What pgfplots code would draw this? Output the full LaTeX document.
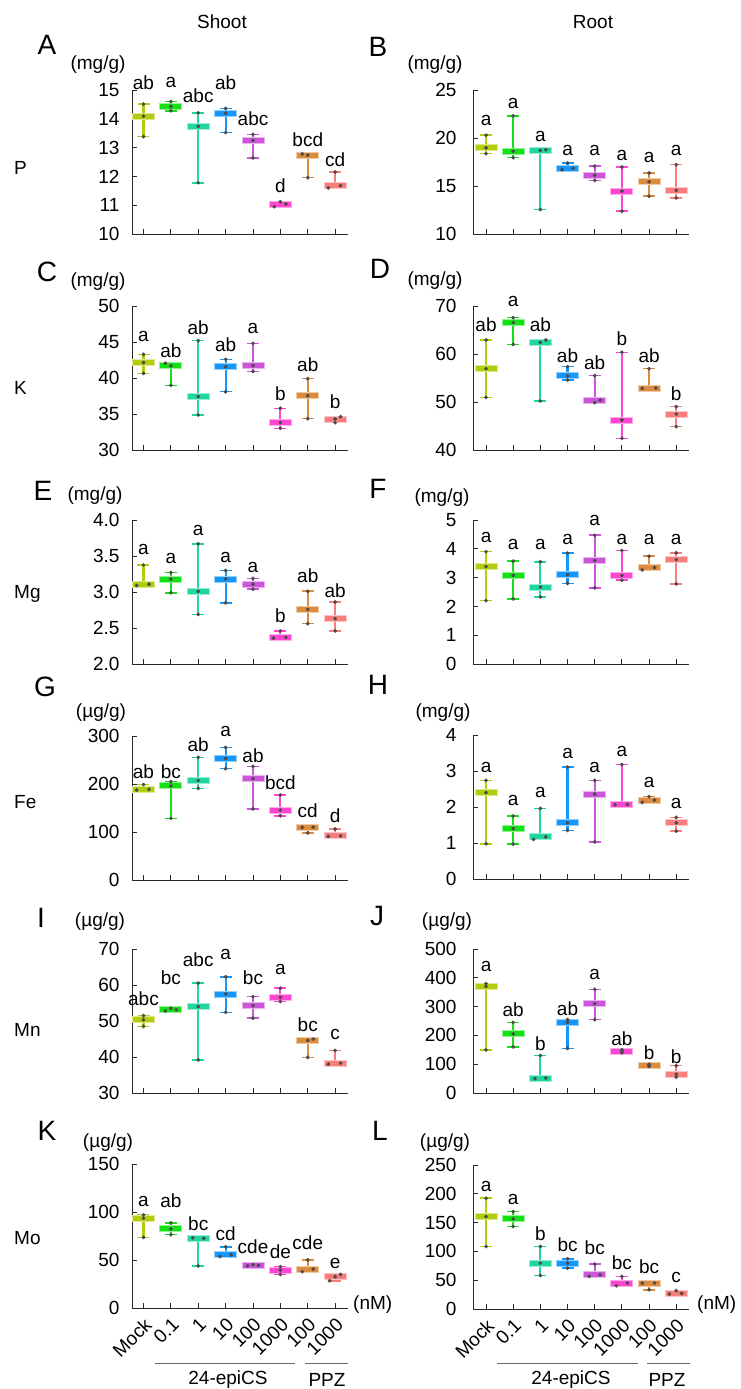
\documentclass[border=0pt]{standalone}
\usepackage{fontspec}
\setmainfont{Liberation Sans}
\usepackage{pgfplots}
\usepackage{pgfplotstable}
\pgfplotsset{compat=1.18}

\definecolor{C0}{RGB}{180,205,10}
\definecolor{C1}{RGB}{20,225,20}
\definecolor{C2}{RGB}{30,215,160}
\definecolor{C3}{RGB}{20,150,250}
\definecolor{C4}{RGB}{205,85,220}
\definecolor{C5}{RGB}{255,70,210}
\definecolor{C6}{RGB}{220,140,60}
\definecolor{C7}{RGB}{250,125,125}
\definecolor{dotc}{RGB}{75,75,75}
\definecolor{axc}{RGB}{40,40,40}

\newcommand{\fs}{\fontsize{19}{22}\selectfont}
\newcommand{\fl}{\fontsize{28}{30}\selectfont}

% x lo med hi | dot x-offsets | letter y | letter
\pgfplotstableread{
x lo med hi ol om oh ly lab
0 13.38 14.09 14.51 0 0 0 15.27 ab
1 14.28 14.43 14.60 0 0 0 15.27 a
2 11.78 13.74 14.21 0 0 0 14.80 abc
3 13.52 14.19 14.36 0 0 0 15.27 ab
4 12.64 13.25 13.46 0 0 0 13.99 abc
5 10.95 11.04 11.12 -0.22 0.2 0 11.68 d
6 11.96 12.74 12.78 0 0 -0.2 13.26 bcd
7 11.60 11.68 12.15 -0.25 0.2 0 12.58 cd
}\tabA
\pgfplotstableread{
x lo med hi ol om oh ly lab
0 18.37 18.97 20.29 0 0 0 21.79 a
1 17.95 18.62 22.31 0 0 0 23.60 a
2 12.55 18.70 18.78 0 0 0.2 20.19 a
3 16.70 16.85 17.40 -0.2 0.2 0 18.65 a
4 15.58 16.14 17.08 0 0 0 18.65 a
5 12.37 14.47 16.98 0 0 0 18.20 a
6 13.94 15.44 16.35 0 0 0 17.95 a
7 13.77 14.54 17.22 0 0 0 18.65 a
}\tabB
\pgfplotstableread{
x lo med hi ol om oh ly lab
0 40.65 42.13 43.29 0 0 0 45.74 a
1 38.98 41.70 42.04 0 0 -0.2 43.80 ab
2 34.86 37.41 45.19 0 0 0 47.04 ab
3 38.10 41.57 42.59 0 0 0 44.68 ab
4 40.93 41.71 44.81 0 0 0 46.90 a
5 33.01 33.80 35.79 0 0 0 37.78 b
6 34.35 37.55 39.91 0 0 0 41.80 ab
7 33.80 34.30 34.63 0 0 0.2 36.71 b
}\tabC
\pgfplotstableread{
x lo med hi ol om oh ly lab
0 50.97 56.94 62.92 0 0 0 66.04 ab
1 62.01 66.53 67.57 0 0 0 71.04 a
2 50.20 62.40 62.92 0 0 0.2 66.04 ab
3 54.58 55.42 57.36 0 0 0 59.58 ab
4 49.86 50.40 55.49 0 0.2 0 58.19 ab
5 42.43 46.25 60.35 0 0 0 63.26 b
6 52.85 52.90 56.94 -0.25 0.25 0 59.58 ab
7 44.86 47.50 49.03 0 0 0 51.80 b
}\tabD
\pgfplotstableread{
x lo med hi ol om oh ly lab
0 3.09 3.11 3.375 -0.25 0.2 0 3.59 a
1 2.99 3.18 3.27 0 0 0 3.46 a
2 2.69 3.01 3.67 0 0 0 3.85 a
3 2.85 3.18 3.30 0 0 0 3.48 a
4 3.04 3.11 3.19 0 0 0 3.34 a
5 2.36 2.37 2.46 -0.25 0.2 0 2.67 b
6 2.56 2.76 3.01 0 0 0 3.23 ab
7 2.46 2.63 2.86 0 0 0 3.02 ab
}\tabE
\pgfplotstableread{
x lo med hi ol om oh ly lab
0 2.20 3.38 3.90 0 0 0 4.38 a
1 2.26 3.08 3.57 0 0 0 4.15 a
2 2.33 2.67 3.55 0 0 0 4.15 a
3 2.80 3.10 3.85 0 0 0 4.33 a
4 2.64 3.59 4.47 0 0 0 4.97 a
5 2.91 3.07 3.94 0 0 0 4.33 a
6 3.27 3.35 3.74 -0.25 0.2 0 4.33 a
7 2.78 3.62 3.86 0 0 0 4.33 a
}\tabF
\pgfplotstableread{
x lo med hi ol om oh ly lab
0 187.5 189.0 199.0 -0.25 0.2 0 226.5 ab
1 128.4 196.0 204.6 0 0 0 226.5 bc
2 190.8 207.3 255.4 0 0 0 281.5 ab
3 232.0 253.3 276.0 0 0 0 309.0 a
4 148.3 211.4 236.8 0 0 0 259.5 ab
5 133.9 145.6 177.1 0 0 0 202.5 bcd
6 98.2 109.8 110.2 0 -0.2 0.2 144.0 cd
7 91.0 92.0 106.4 -0.25 0.2 0 134.0 d
}\tabG
\pgfplotstableread{
x lo med hi ol om oh ly lab
0 0.98 2.40 2.74 0 0 0 3.10 a
1 0.97 1.40 1.75 0 0 0 2.17 a
2 1.10 1.17 1.96 -0.25 0.2 0 2.40 a
3 1.35 1.56 3.11 0 0 0 3.48 a
4 1.03 2.36 2.74 0 0 0 3.10 a
5 2.06 2.07 3.18 -0.25 0.2 0 3.54 a
6 2.13 2.19 2.29 -0.25 0.2 0 2.68 a
7 1.33 1.56 1.71 0 0 0 2.10 a
}\tabH
\pgfplotstableread{
x lo med hi ol om oh ly lab
0 48.5 50.3 51.5 0 0 0 56.3 abc
1 52.8 53.1 53.56 -0.2 0.2 0 61.9 bc
2 39.2 54.0 60.5 0 0 0 67.1 abc
3 52.4 57.5 62.3 0 0 0 68.5 a
4 50.8 54.3 56.8 0 0 0 61.9 bc
5 55.4 56.6 59.1 0 0 0 64.4 a
6 39.9 44.6 45.0 0 0 0.2 48.9 bc
7 38.0 38.3 41.8 -0.25 0.2 0 46.35 c
}\tabI
\pgfplotstableread{
x lo med hi ol om oh ly lab
0 150 370 380 0 0 0 440 a
1 160 205 245 0 0 0 290 ab
2 50 52 130 -0.2 0.2 0 172 b
3 155 245 255 0 0 0 292 ab
4 255 310 360 0 0 0 410 a
5 140 145 150 0 0 0 190 ab
6 92 95 100 0 0 0 140 b
7 55 65 95 0 0 0 125 b
}\tabJ
\pgfplotstableread{
x lo med hi ol om oh ly lab
0 73.6 93.5 97.0 0 0 0 111.4 a
1 76.4 82.4 88.7 0 0 0 111.4 ab
2 43.8 72.5 73.0 0 0.2 -0.2 88.0 bc
3 53.6 55.4 63.8 -0.2 0.2 0 77.4 cd
4 43.8 44.5 45.2 -0.2 0.2 0 64.1 cde
5 35.0 39.6 43.1 0 0 0 58.2 de
6 37.8 40.6 50.1 -0.2 0.2 0 68.3 cde
7 28.4 32.6 35.0 -0.2 0 0.2 46.6 e
}\tabK
\pgfplotstableread{
x lo med hi ol om oh ly lab
0 108.5 160.5 192.3 0 0 0 212.5 a
1 143.2 156.5 169.2 0 0 0 190.5 a
2 58.3 79.7 108.5 0 0 0 130.5 b
3 71.0 79.7 87.2 0 0 0 111.4 bc
4 56.6 59.5 78.0 -0.2 0.2 0 105.7 bc
5 40.4 45.0 56.6 -0.2 0.2 0 79.7 bc
6 33.5 45.0 45.2 0 -0.25 0.2 73.9 bc
7 26.0 27.0 31.8 -0.25 0.2 0 54.8 c
}\tabL

\pgfplotsset{
  panel/.style={
    scale only axis, width=216pt, height=144pt,
    axis lines=left, axis line style={-, line width=1pt, axc},
    xmin=-0.42, xmax=7.47, xtick={0,...,7}, xticklabels={},
    tick align=inside, major tick length=5pt,
    tick style={axc, line width=1pt},
    clip=false,
    tick label style={font=\fs},
    /pgf/number format/assume math mode=true,
    yticklabel style={xshift=-9pt},
  },
  rpanel/.style={panel, xmin=-0.48, yticklabel style={xshift=-4pt}},
  bottom/.style={xticklabels={Mock,0.1,1,10,100,1000,100,1000},
    xticklabel style={xshift=7pt, yshift=-11pt, rotate=45, anchor=east, font=\fs}},
}

\newcommand{\drawpanel}[1]{%
  \pgfplotsinvokeforeach{0,...,7}{%
    \addplot[C##1!45, only marks, mark=-, mark size=11.5pt,
      mark options={line width=7pt}]
      table[x=x, y=med, restrict expr to domain={\coordindex}{##1:##1}] {#1};
    \addplot[C##1, only marks, mark=-, mark size=10.5pt,
      mark options={line width=5pt, draw=C##1},
      error bars/.cd, y dir=both, y explicit, error mark=-,
      error mark options={rotate=90, mark size=6pt, line width=1.6pt, draw=C##1},
      error bar style={line width=2.2pt, draw=C##1}]
      table[x=x, y=med,
        y error plus expr=\thisrow{hi}-\thisrow{med},
        y error minus expr=\thisrow{med}-\thisrow{lo},
        restrict expr to domain={\coordindex}{##1:##1}] {#1};
  }
  \addplot[only marks, mark=*, mark size=1.7pt, dotc] table[x expr=\thisrow{x}+\thisrow{ol}, y=lo] {#1};
  \addplot[only marks, mark=*, mark size=1.7pt, dotc] table[x expr=\thisrow{x}+\thisrow{om}, y=med] {#1};
  \addplot[only marks, mark=*, mark size=1.7pt, dotc] table[x expr=\thisrow{x}+\thisrow{oh}, y=hi] {#1};
  \addplot[only marks, mark=none, nodes near coords, point meta=explicit symbolic,
    nodes near coords align=center,
    every node near coord/.append style={font=\fs, inner sep=0pt, anchor=center, black}]
    table[x=x, y=ly, meta=lab] {#1};
}

\begin{document}
\begin{tikzpicture}
\useasboundingbox (0,0) rectangle (741pt,-1389pt);

% ---- left column (Shoot)
\begin{axis}[panel, at={(132pt,-234pt)}, anchor=south west, ymin=10, ymax=15, ytick={10,...,15}]
\drawpanel{\tabA}
\end{axis}
\begin{axis}[panel, at={(132pt,-450pt)}, anchor=south west, ymin=30, ymax=50, ytick={30,35,...,50}]
\drawpanel{\tabC}
\end{axis}
\begin{axis}[panel, at={(132pt,-664pt)}, anchor=south west, ymin=2, ymax=4, ytick={2,2.5,...,4},
  yticklabel style={/pgf/number format/.cd, fixed, fixed zerofill, precision=1}]
\drawpanel{\tabE}
\end{axis}
\begin{axis}[panel, at={(132pt,-880pt)}, anchor=south west, ymin=0, ymax=300, ytick={0,100,...,300}]
\drawpanel{\tabG}
\end{axis}
\begin{axis}[panel, at={(132pt,-1093pt)}, anchor=south west, ymin=30, ymax=70, ytick={30,40,...,70}]
\drawpanel{\tabI}
\end{axis}
\begin{axis}[panel, bottom, at={(132pt,-1308pt)}, anchor=south west, ymin=0, ymax=150, ytick={0,50,...,150}]
\drawpanel{\tabK}
\end{axis}

% ---- right column (Root)
\begin{axis}[rpanel, at={(473pt,-234pt)}, anchor=south west, ymin=10, ymax=25, ytick={10,15,...,25}]
\drawpanel{\tabB}
\end{axis}
\begin{axis}[rpanel, at={(473pt,-450pt)}, anchor=south west, ymin=40, ymax=70, ytick={40,50,...,70}]
\drawpanel{\tabD}
\end{axis}
\begin{axis}[rpanel, at={(473pt,-664pt)}, anchor=south west, ymin=0, ymax=5, ytick={0,...,5}]
\drawpanel{\tabF}
\end{axis}
\begin{axis}[rpanel, at={(473pt,-879pt)}, anchor=south west, ymin=0, ymax=4, ytick={0,...,4}]
\drawpanel{\tabH}
\end{axis}
\begin{axis}[rpanel, at={(473pt,-1093pt)}, anchor=south west, ymin=0, ymax=500, ytick={0,100,...,500}]
\drawpanel{\tabJ}
\end{axis}
\begin{axis}[rpanel, bottom, at={(473pt,-1309pt)}, anchor=south west, ymin=0, ymax=250, ytick={0,50,...,250}]
\drawpanel{\tabL}
\end{axis}

\begin{scope}[x=1pt, y=-1pt]
\node[font=\fs] at (222,22) {Shoot};
\node[font=\fs] at (593,22) {Root};
% panel letters
\node[font=\fl, anchor=base] at (47,55) {A};
\node[font=\fl, anchor=base] at (378,57) {B};
\node[font=\fl, anchor=base] at (47,281) {C};
\node[font=\fl, anchor=base] at (380,278) {D};
\node[font=\fl, anchor=base] at (43,500) {E};
\node[font=\fl, anchor=base] at (378,498) {F};
\node[font=\fl, anchor=base] at (45,696) {G};
\node[font=\fl, anchor=base] at (378,694) {H};
\node[font=\fl, anchor=base] at (41,927) {I};
\node[font=\fl, anchor=base] at (377,925) {J};
\node[font=\fl, anchor=base] at (47,1140) {K};
\node[font=\fl, anchor=base] at (380,1140) {L};
% units
\node[font=\fs] at (98,65) {(mg/g)};
\node[font=\fs] at (435,65) {(mg/g)};
\node[font=\fs] at (98,282) {(mg/g)};
\node[font=\fs] at (435,281) {(mg/g)};
\node[font=\fs] at (95,496) {(mg/g)};
\node[font=\fs] at (442,498) {(mg/g)};
\node[font=\fs] at (101,713) {(µg/g)};
\node[font=\fs] at (443,713) {(mg/g)};
\node[font=\fs] at (100,922) {(µg/g)};
\node[font=\fs] at (447,922) {(µg/g)};
\node[font=\fs] at (108,1143) {(µg/g)};
\node[font=\fs] at (445,1143) {(µg/g)};
% element names
\node[font=\fs, anchor=base west, inner sep=0pt] at (14,174) {P};
\node[font=\fs, anchor=base west, inner sep=0pt] at (14,394) {K};
\node[font=\fs, anchor=base west, inner sep=0pt] at (14,598) {Mg};
\node[font=\fs, anchor=base west, inner sep=0pt] at (14,808) {Fe};
\node[font=\fs, anchor=base west, inner sep=0pt] at (14,1036) {Mn};
\node[font=\fs, anchor=base west, inner sep=0pt] at (14,1244) {Mo};
% (nM)
\node[font=\fs, anchor=west, inner sep=0pt] at (353,1305) {(nM)};
\node[font=\fs, anchor=west, inner sep=0pt] at (697,1305) {(nM)};
% group brackets
\draw[black!60, line width=0.8pt] (155,1363) -- (295,1363);
\draw[black!60, line width=0.8pt] (305,1363) -- (348,1363);
\draw[black!60, line width=0.8pt] (497,1363) -- (638,1363);
\draw[black!60, line width=0.8pt] (647,1363) -- (690,1363);
\node[font=\fs] at (228,1380) {24-epiCS};
\node[font=\fs] at (327,1380) {PPZ};
\node[font=\fs] at (571,1380) {24-epiCS};
\node[font=\fs] at (667,1380) {PPZ};
\end{scope}
\end{tikzpicture}
\end{document}
